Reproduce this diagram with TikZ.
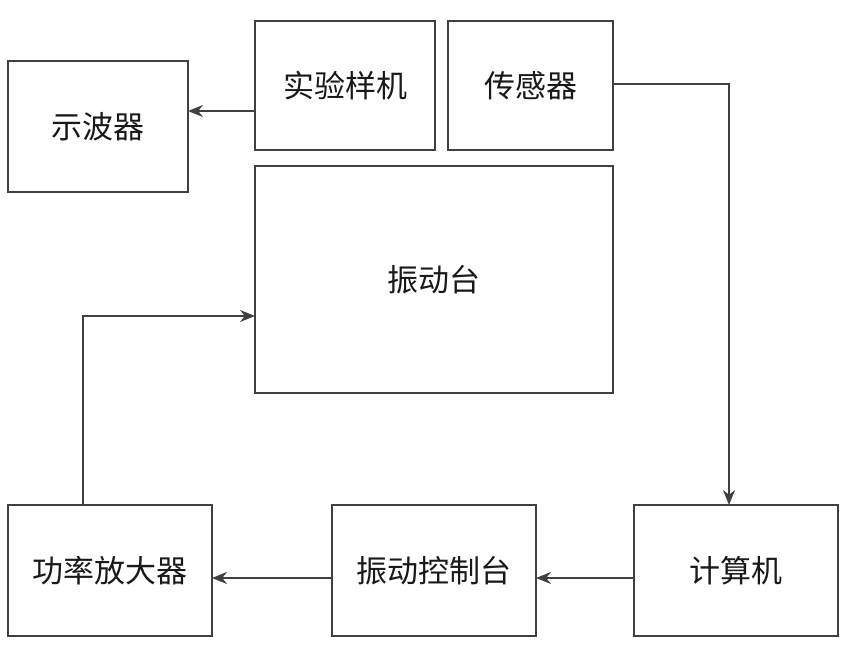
\documentclass[tikz,border=0pt]{standalone}
\usepackage{fontspec}
\newfontfamily\cjk{Noto Sans CJK SC}
\usetikzlibrary{arrows.meta}
\begin{document}
\begin{tikzpicture}[x=1pt,y=-1pt,
  box/.style={draw=black!75, line width=1.9pt, inner sep=0pt, outer sep=0pt, font=\cjk\fontsize{31}{36}\selectfont, text=black!90},
  arr/.style={draw=black!75, line width=1.9pt, -{Stealth[length=15pt,width=12pt]}}]
\useasboundingbox (0,0) rectangle (847,654);
\node[box, minimum width=180pt, minimum height=131pt] (osc) at (98,126.5) {示波器};
\node[box, minimum width=180pt, minimum height=129pt] (proto) at (345,85.5) {实验样机};
\node[box, minimum width=165pt, minimum height=129pt] (sensor) at (530.5,85.5) {传感器};
\node[box, minimum width=358pt, minimum height=227pt] (table) at (434,279.5) {振动台};
\node[box, minimum width=204pt, minimum height=131pt] (amp) at (110,570.5) {功率放大器};
\node[box, minimum width=204pt, minimum height=131pt] (ctrl) at (434,570.5) {振动控制台};
\node[box, minimum width=204pt, minimum height=131pt] (pc) at (736,570.5) {计算机};
\draw[arr] ([yshift=-25.5pt]proto.west) -- ([yshift=-25.5pt]proto.west -| osc.east);
\draw[arr] ([yshift=1.5pt]sensor.east) -| ([xshift=-7pt]pc.north);
\draw[arr] ([yshift=-7.5pt]pc.west) -- ([yshift=-7.5pt]ctrl.east);
\draw[arr] ([yshift=-7.5pt]ctrl.west) -- ([yshift=-7.5pt]amp.east);
\draw[arr] ([xshift=-27pt]amp.north) |- ([yshift=-36.5pt]table.west);
\end{tikzpicture}
\end{document}
